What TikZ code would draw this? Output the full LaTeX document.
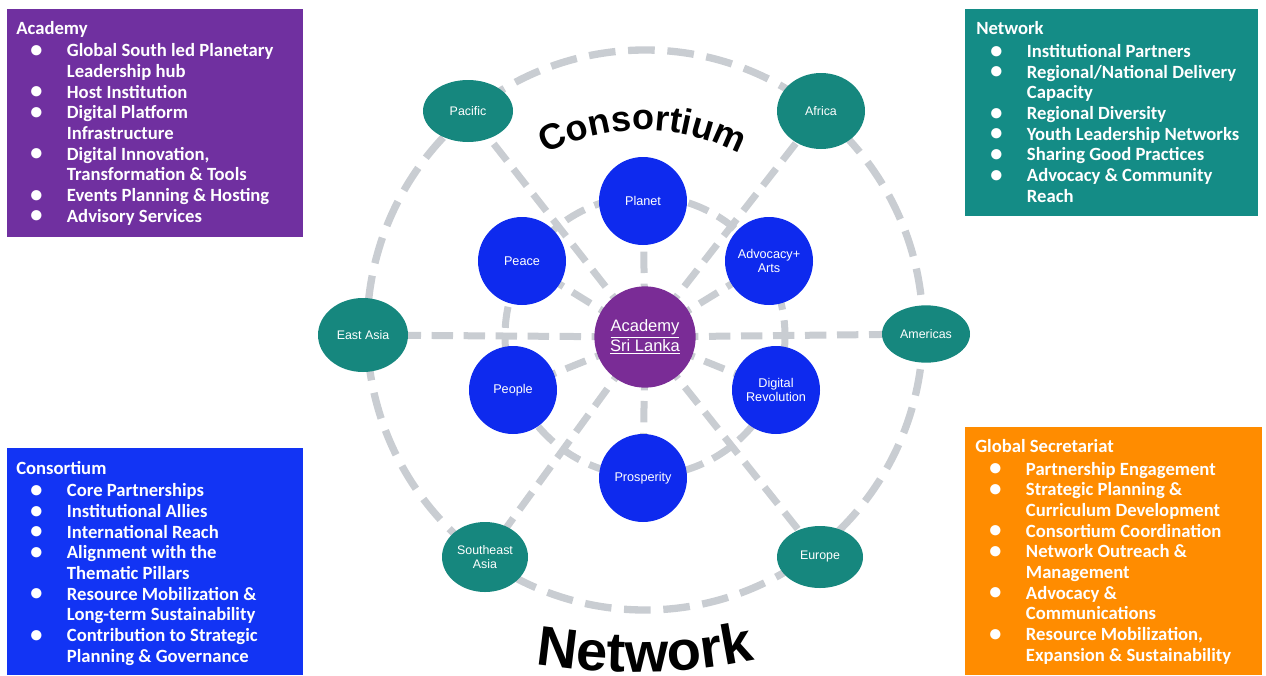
\documentclass[tikz,border=0pt]{standalone}
\usepackage{fontspec}
\usepackage{graphicx}
\setmainfont{Liberation Sans}
\newfontfamily\boxfont{Carlito}
\usetikzlibrary{shapes.geometric,decorations.text,backgrounds}

\definecolor{acadpurple}{RGB}{112,48,160}
\definecolor{hubpurple}{RGB}{122,44,150}
\definecolor{netteal}{RGB}{20,140,134}
\definecolor{regionteal}{RGB}{22,135,126}
\definecolor{consblue}{RGB}{18,52,244}
\definecolor{pillarblue}{RGB}{14,42,238}
\definecolor{secorange}{RGB}{255,140,0}
\definecolor{ringgray}{RGB}{201,205,210}

\newcommand{\itm}[1]{\hspace*{10.5pt}\makebox[27.5pt][l]{\raisebox{-0.6pt}{\scalebox{1.3}{\textbullet}}}#1}
\newcommand{\cnt}[1]{\hspace*{38pt}#1}
\newcommand{\tallchar}{\scalebox{1}[1.2]}

\tikzset{
  boxtext/.style={anchor=base west, inner sep=0pt, align=left, text=white,
    font=\boxfont\bfseries\fontsize{14}{15.5}\selectfont},
  region/.style={ellipse, fill=regionteal, inner sep=0pt, text=white,
    align=center, font=\fontsize{9.3}{10.5}\selectfont},
  pillar/.style={circle, fill=pillarblue, minimum size=66pt, inner sep=0pt,
    text=white, align=center, font=\fontsize{9.5}{11}\selectfont},
  hubnode/.style={circle, fill=hubpurple, minimum size=76pt, inner sep=0pt,
    text=white, align=center, font=\fontsize{12.4}{13}\selectfont},
  spoke/.style={draw=ringgray, line width=5.25pt, dash pattern=on 16pt off 8pt},
  ring/.style={draw=ringgray, line width=5.5pt, dash pattern=on 20pt off 9.5pt}
}

\begin{document}
\begin{tikzpicture}[x=0.75pt,y=0.75pt,yscale=-1,xscale=1]
\useasboundingbox (0,0) rectangle (1266,675);

%Shape: Circle [hub]
\node[hubnode] (hub) at (645,337) {\underline{Academy}\\\underline{Sri Lanka}};

%Shape: Circle [pillars]
\node[pillar] (planet) at (643,201) {Planet};
\node[pillar] (peace) at (522,261) {Peace};
\node[pillar] (advoc) at (769,261) {Advocacy+\\Arts};
\node[pillar] (people) at (513,390) {People};
\node[pillar] (digital) at (776,390) {Digital\\Revolution};
\node[pillar] (prosp) at (643,478) {Prosperity};

%Shape: Ellipse [regions]
\node[region, minimum width=67.5pt, minimum height=46.5pt] (pacific) at (468,111) {Pacific};
\node[region, minimum width=66pt, minimum height=57pt] (africa) at (821,111) {Africa};
\node[region, minimum width=67.5pt, minimum height=55.5pt] (eastasia) at (363,335) {East Asia};
\node[region, minimum width=66pt, minimum height=43pt] (americas) at (926,334) {Americas};
\node[region, minimum width=64.5pt, minimum height=52.5pt] (seasia) at (485,557) {Southeast\\Asia};
\node[region, minimum width=64.5pt, minimum height=46.5pt] (europe) at (820,557) {Europe};

%Straight Lines [rings and spokes]
\begin{pgfonlayer}{background}
\draw[ring] (645,330) ellipse [x radius=278, y radius=280];
\draw[spoke] (645,336) circle [radius=140];
\foreach \n in {pacific,africa,eastasia,americas,seasia,europe,planet,peace,advoc,people,digital,prosp}
  \draw[spoke] (hub.center) -- (\n.center);
\end{pgfonlayer}

% Text Node [arched titles]
\begin{scope}[yscale=-1]
\path[decorate, decoration={text along path, text align=center,
  text={|\bfseries\fontsize{27}{27}\selectfont|Consortium}}]
  (643,-335) ++(155:205) arc [start angle=155, end angle=25, radius=205];
\path[decorate, decoration={text along path, text align=center,
  text={|\bfseries\fontsize{42}{42}\selectfont\tallchar|Network}}]
  (522,-662) .. controls (600,-676) and (690,-676) .. (768,-657);
\end{scope}

%Shape: Rectangle [Academy]
\fill[acadpurple] (7,9) rectangle (303,237);
% Text Node
\node[boxtext] (acadtxt) at (16,222) {Academy\\[1.5pt]
  \itm{Global South led Planetary}\\ \cnt{Leadership hub}\\
  \itm{Host Institution}\\ \itm{Digital Platform}\\ \cnt{Infrastructure}\\
  \itm{Digital Innovation,}\\ \cnt{Transformation \& Tools}\\
  \itm{Events Planning \& Hosting}\\ \itm{Advisory Services}};

%Shape: Rectangle [Network]
\fill[netteal] (965,9) rectangle (1258,216);
% Text Node
\node[boxtext] (nettxt) at (976,202) {Network\\[1.5pt]
  \itm{Institutional Partners}\\ \itm{Regional/National Delivery}\\ \cnt{Capacity}\\
  \itm{Regional Diversity}\\ \itm{Youth Leadership Networks}\\
  \itm{Sharing Good Practices}\\ \itm{Advocacy \& Community}\\ \cnt{Reach}};

%Shape: Rectangle [Consortium]
\fill[consblue] (7,448) rectangle (303,675);
% Text Node
\node[boxtext] (constxt) at (16,662) {Consortium\\[1.5pt]
  \itm{Core Partnerships}\\ \itm{Institutional Allies}\\ \itm{International Reach}\\
  \itm{Alignment with the}\\ \cnt{Thematic Pillars}\\
  \itm{Resource Mobilization \&}\\ \cnt{Long-term Sustainability}\\
  \itm{Contribution to Strategic}\\ \cnt{Planning \& Governance}};

%Shape: Rectangle [Global Secretariat]
\fill[secorange] (965,427) rectangle (1262,675);
% Text Node
\node[boxtext] (sectxt) at (975,661) {Global Secretariat\\[1.5pt]
  \itm{Partnership Engagement}\\ \itm{Strategic Planning \&}\\ \cnt{Curriculum Development}\\
  \itm{Consortium Coordination}\\ \itm{Network Outreach \&}\\ \cnt{Management}\\
  \itm{Advocacy \&}\\ \cnt{Communications}\\
  \itm{Resource Mobilization,}\\ \cnt{Expansion \& Sustainability}};

\end{tikzpicture}
\end{document}
